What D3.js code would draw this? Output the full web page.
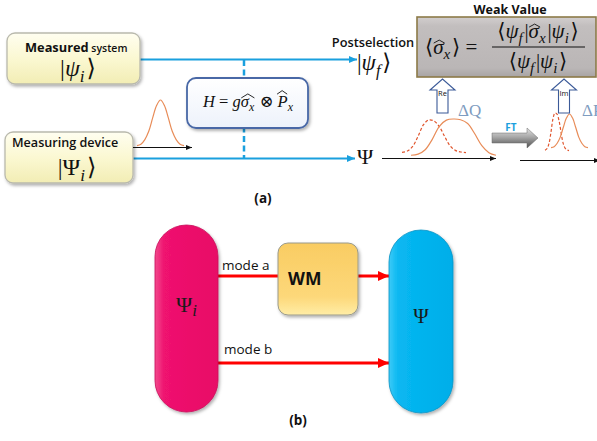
<!DOCTYPE html>
<html><head><meta charset="utf-8">
<script src="https://cdn.jsdelivr.net/npm/d3@7"></script>
<style>body{margin:0;background:#fff} svg{display:block}</style>
</head><body>
<script>
// ---- text content ----
const panelLabels = ["(a)", "(b)"];
const inputTitles = ["Measured", "Measuring device"];
const inputSuffixes = [" system", ""];
const modeLabels = ["mode a", "mode b"];
const quadratureLabels = ["Re", "Im"];
const spreadLabels = ["ΔQ", "ΔP"];
const stageLabels = ["Postselection", "Weak Value", "FT", "WM"];

// ---- pointer profiles (relative amplitude, 13 samples across each plot) ----
const pointerProfile  = [0.01, 0.04, 0.14, 0.32, 0.61, 0.88, 1, 0.88, 0.61, 0.32, 0.14, 0.04, 0.01];
const shiftedProfile  = [0.02, 0.05, 0.17, 0.45, 0.8, 0.97, 1, 0.98, 0.88, 0.6, 0.28, 0.09, 0.02];
const originalProfile = [0.02, 0.06, 0.2, 0.5, 0.85, 1, 0.97, 0.8, 0.5, 0.22, 0.08, 0.03, 0.01];

const W = 597, H = 441;
const svg = d3.select("body").append("svg").attr("width", W).attr("height", H);
const defs = svg.append("defs");

const SANS = "'Open Sans', 'Noto Sans', sans-serif";
const SERIF = "'Liberation Serif', 'DejaVu Serif', serif";
const BLUE = "#1aa0de";

// shadows
const sh = defs.append("filter").attr("id", "shadow").attr("x", "-20%").attr("y", "-20%").attr("width", "140%").attr("height", "140%");
sh.append("feDropShadow").attr("dx", 1.5).attr("dy", 2).attr("stdDeviation", 1.6)
  .attr("flood-color", "#000").attr("flood-opacity", 0.3);

function vGrad(id, stops) {
  const g = defs.append("linearGradient").attr("id", id).attr("x1", 0).attr("x2", 0).attr("y1", 0).attr("y2", 1);
  stops.forEach(([o, c]) => g.append("stop").attr("offset", o).attr("stop-color", c));
}
function hGrad(id, stops) {
  const g = defs.append("linearGradient").attr("id", id).attr("x1", 0).attr("x2", 1).attr("y1", 0).attr("y2", 0);
  stops.forEach(([o, c]) => g.append("stop").attr("offset", o).attr("stop-color", c));
}
vGrad("cream", [[0, "#fffef0"], [0.5, "#fbf8d2"], [1, "#f2edb4"]]);
vGrad("hbox", [[0, "#ffffff"], [1, "#edf2fb"]]);
vGrad("grey", [[0, "#d2cece"], [0.15, "#c2bebe"], [0.85, "#bab6b6"], [1, "#a8a4a4"]]);
vGrad("ft", [[0, "#e4e4e4"], [0.45, "#a8a8a8"], [1, "#4e4e4e"]]);
vGrad("wm", [[0, "#f9cc62"], [0.75, "#fdd87a"], [1, "#ffeda6"]]);
hGrad("pink", [[0, "#f24a8c"], [0.15, "#ef126f"], [1, "#e80a66"]]);
hGrad("cyan", [[0, "#3ccaf7"], [0.15, "#08b7f1"], [1, "#00aee9"]]);

function marker(id, color, w, h) {
  defs.append("marker").attr("id", id).attr("markerUnits", "userSpaceOnUse")
    .attr("viewBox", `0 0 ${w} ${h}`).attr("markerWidth", w).attr("markerHeight", h)
    .attr("refX", w).attr("refY", h / 2).attr("orient", "auto")
    .append("path").attr("d", `M0,0L${w},${h / 2}L0,${h}Z`).attr("fill", color);
}
marker("arrBlue", BLUE, 8, 7);
marker("arrBlack", "#111", 6, 5);
marker("arrRed", "#ff0000", 11, 10);

// math-like text with italics, subscripts and hats
function math(parent, x, y, parts, size, anchor) {
  const t = parent.append("text").attr("x", x).attr("y", y)
    .attr("font-family", SERIF).attr("font-size", size)
    .attr("text-anchor", anchor || "start").attr("fill", "#111");
  let shift = 0, prevSub = false;
  const spans = parts.map(p => {
    const target = p.sub ? size * 0.24 : 0;
    const s = t.append("tspan").attr("dy", target - shift).text(p.t);
    if (prevSub && !p.sub) s.attr("dx", size * 0.08);
    shift = target; prevSub = !!p.sub;
    if (p.sub) s.attr("font-size", size * 0.72);
    if (p.it) s.attr("font-style", "italic");
    return { node: s.node(), p };
  });
  const groups = {};
  spans.forEach(({ node, p }) => {
    if (!p.hat) return;
    const b = node.getBBox();
    const g = groups[p.hat.id] || (groups[p.hat.id] = { x0: Infinity, x1: -Infinity, top: p.hat.top, h: p.hat.h || 3 });
    g.x0 = Math.min(g.x0, b.x); g.x1 = Math.max(g.x1, b.x + b.width);
  });
  Object.values(groups).forEach(g => {
    const yy = y - g.top * size, pad = 0.5;
    parent.append("path")
      .attr("d", `M${g.x0 + pad},${yy}L${(g.x0 + g.x1) / 2},${yy - g.h}L${g.x1 - pad},${yy}`)
      .attr("fill", "none").attr("stroke", "#111").attr("stroke-width", 0.9);
  });
  return t;
}

// ================= panel (a) =================
const a = svg.append("g");

// blue signal lines
a.append("line").attr("x1", 140).attr("y1", 59.5).attr("x2", 357).attr("y2", 59.5)
  .attr("stroke", BLUE).attr("stroke-width", 2).attr("marker-end", "url(#arrBlue)");
a.append("line").attr("x1", 133).attr("y1", 158.5).attr("x2", 355).attr("y2", 158.5)
  .attr("stroke", BLUE).attr("stroke-width", 2).attr("marker-end", "url(#arrBlue)");
a.append("line").attr("x1", 244).attr("y1", 60).attr("x2", 244).attr("y2", 158)
  .attr("stroke", BLUE).attr("stroke-width", 2.5).attr("stroke-dasharray", "6,3.5");

// input boxes
const inputBoxes = [{ x: 7, y: 33, w: 133, h: 51 }, { x: 5, y: 132, w: 128, h: 51 }];
inputBoxes.forEach((b, i) => {
  a.append("rect").attr("x", b.x).attr("y", b.y).attr("width", b.w).attr("height", b.h)
    .attr("rx", 8).attr("fill", "url(#cream)").attr("stroke", "#b9b9ad").attr("stroke-width", 1.3)
    .attr("filter", "url(#shadow)");
});
const t0 = a.append("text").attr("x", 25).attr("y", 52).attr("font-family", SANS).attr("fill", "#111");
t0.append("tspan").attr("font-size", 12.8).attr("font-weight", 700).text(inputTitles[0]);
t0.append("tspan").attr("font-size", 10.5).attr("font-weight", 600).text(inputSuffixes[0]);
a.append("text").attr("x", 12).attr("y", 147).attr("font-family", SANS).attr("font-size", 12.6)
  .attr("font-weight", 600).attr("fill", "#111").text(inputTitles[1] + inputSuffixes[1]);

math(a, 78, 76, [{ t: "|" }, { t: "ψ", it: true }, { t: "i", it: true, sub: true }, { t: "⟩" }], 24, "middle");
math(a, 77, 175, [{ t: "|Ψ" }, { t: "i", it: true, sub: true }, { t: "⟩" }], 24, "middle");

// pointer on the measuring-device line
a.append("line").attr("x1", 133).attr("y1", 147.5).attr("x2", 192).attr("y2", 147.5)
  .attr("stroke", "#111").attr("stroke-width", 1.2).attr("marker-end", "url(#arrBlack)");

function profileCurve(profile, x0, x1, base, peak, color, dash) {
  const xs = d3.scaleLinear().domain([0, profile.length - 1]).range([x0, x1]);
  const ys = d3.scaleLinear().domain([0, 1]).range([base, peak]);
  a.append("path").datum(profile)
    .attr("d", d3.line().x((d, i) => xs(i)).y(d => ys(d)).curve(d3.curveCatmullRom))
    .attr("fill", "none").attr("stroke", color).attr("stroke-width", 1.2)
    .attr("stroke-dasharray", dash || null);
}
profileCurve(pointerProfile, 137, 184, 146, 100, "#e88c58");

// interaction Hamiltonian box
a.append("rect").attr("x", 187).attr("y", 78).attr("width", 121).attr("height", 50)
  .attr("rx", 9).attr("fill", "url(#hbox)").attr("stroke", "#4868a6").attr("stroke-width", 1.8)
  .attr("filter", "url(#shadow)");
math(a, 248, 107, [
  { t: "H", it: true }, { t: " = " }, { t: "g", it: true },
  { t: "σ", it: true, hat: { id: "s", top: 0.55, h: 4 } }, { t: "x", it: true, sub: true, hat: { id: "s", top: 0.55, h: 4 } },
  { t: " ⊗ " },
  { t: "P", it: true, hat: { id: "p", top: 0.78, h: 3.5 } }, { t: "x", it: true, sub: true }
], 16.5, "middle");

// postselection
a.append("text").attr("x", 373).attr("y", 47).attr("text-anchor", "middle").attr("font-family", SANS)
  .attr("font-size", 12.8).attr("font-weight", 600).attr("fill", "#111").text(stageLabels[0]);
math(a, 357, 70, [{ t: "|" }, { t: "ψ", it: true }, { t: "f", it: true, sub: true }, { t: "⟩" }], 23);

// weak value box
a.append("text").attr("x", 510).attr("y", 13.5).attr("text-anchor", "middle").attr("font-family", SANS)
  .attr("font-size", 12.5).attr("font-weight", 700).attr("fill", "#111").text(stageLabels[1]);
a.append("rect").attr("x", 417).attr("y", 17).attr("width", 179).attr("height", 60)
  .attr("fill", "url(#grey)").attr("stroke", "#8c7a48").attr("stroke-width", 1.6);
math(a, 425, 54, [{ t: "⟨" }, { t: "σ", it: true, hat: { id: "a", top: 0.52, h: 3 } }, { t: "x", it: true, sub: true }, { t: "⟩ = " }], 21);
math(a, 538, 38, [
  { t: "⟨" }, { t: "ψ", it: true }, { t: "f", it: true, sub: true }, { t: "|" },
  { t: "σ", it: true, hat: { id: "b", top: 0.52, h: 3 } }, { t: "x", it: true, sub: true }, { t: "|" },
  { t: "ψ", it: true }, { t: "i", it: true, sub: true }, { t: "⟩" }
], 21, "middle");
a.append("line").attr("x1", 492).attr("x2", 585).attr("y1", 47).attr("y2", 47).attr("stroke", "#111").attr("stroke-width", 1.2);
math(a, 538, 68, [
  { t: "⟨" }, { t: "ψ", it: true }, { t: "f", it: true, sub: true }, { t: "|" },
  { t: "ψ", it: true }, { t: "i", it: true, sub: true }, { t: "⟩" }
], 21, "middle");

// output Ψ and the two read-out plots
a.append("text").attr("x", 357).attr("y", 164).attr("font-family", SERIF).attr("font-size", 22)
  .attr("fill", "#111").text("Ψ");
a.append("line").attr("x1", 382).attr("y1", 158.5).attr("x2", 496).attr("y2", 158.5)
  .attr("stroke", "#111").attr("stroke-width", 1).attr("marker-end", "url(#arrBlack)");
a.append("line").attr("x1", 520).attr("y1", 160.5).attr("x2", 600).attr("y2", 160.5)
  .attr("stroke", "#111").attr("stroke-width", 1).attr("marker-end", "url(#arrBlack)");

profileCurve(originalProfile, 402, 466, 153, 120, "#e0552d", "3,2");
profileCurve(shiftedProfile, 411, 496, 156, 119, "#e88c58");
profileCurve(originalProfile, 545, 569, 151, 113, "#e0552d", "3,2");
profileCurve(pointerProfile, 551, 588, 148, 114, "#e88c58");

// Re / Im hollow arrows
const qArrows = [{ cx: 442.5 }, { cx: 564 }];
qArrows.forEach((q, i) => {
  const s = 5.5, hw = 12.5;
  a.append("path")
    .attr("d", `M${q.cx - s},113L${q.cx - s},90L${q.cx - hw},90L${q.cx},79L${q.cx + hw},90L${q.cx + s},90L${q.cx + s},113Z`)
    .attr("fill", "#fff").attr("stroke", "#3b5a98").attr("stroke-width", 1.1);
  a.append("text").attr("x", q.cx).attr("y", 96).attr("text-anchor", "middle").attr("font-family", SANS)
    .attr("font-size", 7.5).attr("fill", "#111").text(quadratureLabels[i]);
});
a.append("text").attr("x", 458).attr("y", 116).attr("font-family", SERIF).attr("font-size", 17)
  .attr("fill", "#7e9cc0").text(spreadLabels[0]);
// ΔP runs off the right-hand edge of the figure
a.append("text").attr("x", 582).attr("y", 116).attr("font-family", SERIF).attr("font-size", 17)
  .attr("fill", "#7e9cc0").text(spreadLabels[1]);

// Fourier transform arrow
a.append("path").attr("d", "M492,133L527,133L527,128L538,138L527,148L527,143L492,143Z")
  .attr("fill", "url(#ft)").attr("stroke", "#6a6a6a").attr("stroke-width", 0.5);
a.append("text").attr("x", 511).attr("y", 131).attr("text-anchor", "middle").attr("font-family", SANS)
  .attr("font-size", 10).attr("font-weight", 700).attr("fill", BLUE).text(stageLabels[2]);

a.append("text").attr("x", 263).attr("y", 203).attr("text-anchor", "middle").attr("font-family", SANS)
  .attr("font-size", 13.5).attr("font-weight", 700).attr("fill", "#111").text(panelLabels[0]);

// ================= panel (b) =================
const b = svg.append("g");
b.append("line").attr("x1", 218).attr("y1", 276).attr("x2", 278).attr("y2", 276)
  .attr("stroke", "#ff0000").attr("stroke-width", 3);
b.append("line").attr("x1", 358).attr("y1", 276).attr("x2", 389).attr("y2", 276)
  .attr("stroke", "#ff0000").attr("stroke-width", 3).attr("marker-end", "url(#arrRed)");
b.append("line").attr("x1", 218).attr("y1", 363).attr("x2", 389).attr("y2", 363)
  .attr("stroke", "#ff0000").attr("stroke-width", 3).attr("marker-end", "url(#arrRed)");

b.append("rect").attr("x", 155).attr("y", 225).attr("width", 63).attr("height", 187).attr("rx", 31.5)
  .attr("fill", "url(#pink)").attr("stroke", "#c80a58").attr("stroke-width", 0.8).attr("filter", "url(#shadow)");
b.append("rect").attr("x", 389).attr("y", 230).attr("width", 64).attr("height", 183).attr("rx", 32)
  .attr("fill", "url(#cyan)").attr("stroke", "#0a93c4").attr("stroke-width", 0.8).attr("filter", "url(#shadow)");
b.append("rect").attr("x", 278).attr("y", 243).attr("width", 80).attr("height", 72).attr("rx", 10)
  .attr("fill", "url(#wm)").attr("stroke", "#9a9a8a").attr("stroke-width", 1).attr("filter", "url(#shadow)");

b.append("text").attr("x", 288).attr("y", 285).attr("font-family", SANS).attr("font-size", 17.5)
  .attr("font-weight", 700).attr("fill", "#111").text(stageLabels[3]);

const t1 = b.append("text").attr("x", 176).attr("y", 312).attr("font-family", SERIF).attr("font-size", 22).attr("fill", "#1a1a1a");
t1.append("tspan").text("Ψ");
t1.append("tspan").attr("font-style", "italic").attr("font-size", 17).attr("dy", 4).text("i");
b.append("text").attr("x", 421).attr("y", 323).attr("text-anchor", "middle").attr("font-family", SERIF)
  .attr("font-size", 21).attr("fill", "#1a1a1a").text("Ψ");

b.append("text").attr("x", 222).attr("y", 270).attr("font-family", SANS).attr("font-size", 13.5)
  .attr("fill", "#111").text(modeLabels[0]);
b.append("text").attr("x", 224).attr("y", 354).attr("font-family", SANS).attr("font-size", 13.5)
  .attr("fill", "#111").text(modeLabels[1]);

b.append("text").attr("x", 298).attr("y", 425).attr("text-anchor", "middle").attr("font-family", SANS)
  .attr("font-size", 13.5).attr("font-weight", 700).attr("fill", "#111").text(panelLabels[1]);
</script>
</body></html>
